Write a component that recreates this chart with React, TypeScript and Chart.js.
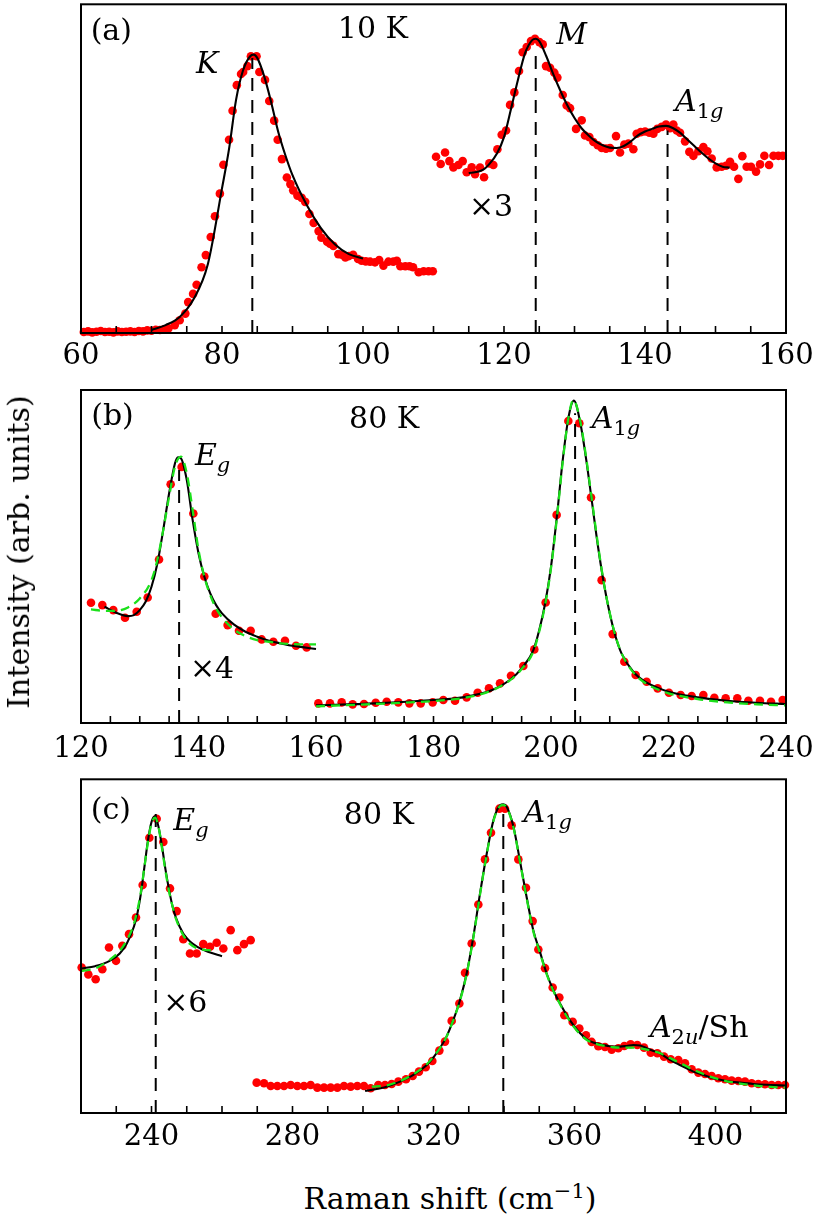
import React, { useEffect, useRef } from 'react';
import { Chart, registerables } from 'chart.js';

Chart.register(...registerables);

const FONT = '"DejaVu Serif", serif';

// ---------------- Panel (a): 10 K ----------------
const aKShift = [60.4, 61.0, 61.6, 62.2, 62.8, 63.4, 64.0, 64.6, 65.2, 65.8, 66.4, 67.0, 67.6, 68.2, 68.8, 69.4, 70.0, 70.6, 71.2, 71.8, 72.4, 73.3, 74.0, 74.8, 75.2, 75.9, 76.4, 77.1, 77.7, 78.4, 79.0, 79.7, 80.2, 81.0, 81.5, 82.1, 82.7, 83.0, 83.6, 84.1, 84.9, 85.3, 86.1, 86.7, 87.4, 87.9, 88.5, 89.2, 89.7, 90.1, 90.7, 91.3, 91.8, 92.4, 93.0, 93.7, 94.1, 94.9, 95.3, 95.8, 96.5, 97.0, 97.5, 98.0, 98.6, 99.3, 99.8, 100.4, 101.0, 101.7, 102.3, 102.9, 103.6, 104.3, 104.8, 105.3, 106.0, 106.6, 107.1, 107.9, 108.6, 109.3, 109.9];
const aKIntensity = [0.3, 0.5, 0.2, 0.4, 0.6, 0.3, 0.4, 0.2, 0.5, 0.3, 0.4, 0.5, 0.3, 0.6, 0.5, 0.8, 0.7, 1.0, 0.9, 1.1, 1.4, 2.4, 3.9, 5.9, 9.4, 11.9, 14.7, 20.0, 23.7, 29.2, 35.5, 42.4, 51.2, 58.8, 67.6, 75.4, 78.8, 79.4, 81.2, 84.2, 84.2, 79.4, 77.0, 70.6, 64.6, 58.8, 52.9, 47.3, 45.3, 43.4, 41.8, 41.1, 39.9, 36.2, 33.5, 31.0, 29.0, 27.8, 27.2, 26.5, 24.0, 23.8, 23.0, 23.4, 23.8, 22.5, 22.0, 21.8, 21.7, 21.5, 22.2, 20.5, 21.7, 21.7, 22.0, 20.3, 20.3, 20.3, 20.0, 18.5, 18.8, 18.8, 18.8];
const aKFitShift = [70, 72, 74, 76, 78, 80, 81, 82, 83, 84, 84.5, 85, 86, 87, 88, 89, 90, 92, 94, 96, 98, 100];
const aKFitIntensity = [0.9, 2.4, 4.9, 10.4, 21.0, 44.0, 56.0, 71.0, 80.0, 84.2, 84.7, 83.7, 78.0, 70.0, 61.0, 54.0, 48.0, 39.0, 32.0, 27.0, 24.0, 22.7];
const aMShift = [110.36, 111.02, 111.64, 112.25, 112.82, 113.53, 114.14, 114.71, 115.42, 115.89, 116.6, 117.17, 117.92, 118.49, 119.06, 119.67, 120.29, 120.86, 121.47, 122.13, 122.65, 123.22, 123.83, 124.4, 125.02, 125.49, 125.96, 126.53, 127.14, 127.57, 128.33, 128.89, 129.37, 130.22, 131.02, 131.49, 132.11, 132.68, 133.29, 133.86, 134.47, 135.04, 135.89, 136.46, 137.07, 137.64, 138.35, 138.82, 139.39, 140.01, 140.62, 141.19, 141.75, 142.37, 142.98, 143.55, 144.02, 144.5, 144.97, 145.68, 146.29, 146.86, 147.57, 148.28, 148.85, 149.46, 150.17, 150.88, 151.49, 152.06, 152.63, 153.24, 153.81, 154.42, 155.04, 155.75, 156.32, 156.93, 157.6, 158.22, 158.92, 159.54];
const aMIntensity = [53.6, 51.4, 54.9, 52.3, 50.4, 51.1, 52.3, 48.9, 50.4, 48.3, 50.3, 47.4, 51.6, 51.1, 55.9, 60.3, 61.6, 69.4, 73.2, 79.7, 85.4, 87.0, 88.8, 89.5, 88.5, 87.8, 81.2, 80.7, 79.2, 77.7, 72.4, 69.2, 68.4, 62.1, 64.7, 60.1, 59.6, 58.1, 57.1, 56.3, 56.1, 56.3, 59.9, 54.9, 57.3, 57.6, 55.9, 60.6, 61.1, 61.3, 60.9, 60.6, 62.1, 62.7, 63.4, 62.3, 63.4, 61.6, 60.9, 58.3, 55.1, 53.9, 55.3, 56.6, 55.3, 53.1, 50.4, 50.6, 50.9, 52.1, 50.6, 46.9, 53.8, 50.6, 50.6, 49.1, 51.3, 53.9, 51.1, 53.9, 53.9, 53.9];
const aMFitShift = [115, 117, 118, 119, 120, 121, 122, 123, 124, 124.5, 125, 126, 127, 128, 129, 130, 131, 132, 133, 134, 135, 136, 137, 138, 139, 140, 141, 142, 143, 144, 145, 146, 147, 148, 149, 150, 151, 152];
const aMFitIntensity = [48.6, 49.6, 51.6, 54.6, 59.6, 68.2, 77.2, 85.2, 89.1, 89.5, 88.8, 84.2, 78.7, 73.7, 69.2, 65.4, 62.3, 60.1, 58.3, 57.1, 56.4, 56.3, 56.9, 58.3, 60.1, 61.3, 62.1, 62.8, 63.0, 62.3, 60.9, 58.9, 56.9, 54.9, 53.1, 51.6, 50.6, 50.3];
const aPeakShift = [84.3, 124.5, 143.2];
const aPeakTop = [83.7, 86.2, 61.6];

// ---------------- Panel (b): 80 K ----------------
const bEgShift = [121.7, 123.63, 125.5, 127.49, 129.48, 131.35, 133.28, 135.26, 137.13, 139.12, 140.99, 142.92, 144.96, 146.89, 148.88, 150.75, 152.74, 154.72, 156.6, 158.41];
const bEgIntensity = [36.1, 35.4, 33.9, 31.6, 33.4, 37.7, 49.1, 71.7, 76.9, 62.9, 44.0, 32.8, 29.4, 27.7, 27.7, 25.1, 24.4, 24.7, 23.2, 22.7];
const bEgFitShift = [124, 126, 128, 129, 130, 131, 132, 133, 134, 135, 136, 136.5, 137, 138, 139, 140, 141, 142, 143, 144, 146, 148, 150, 152, 154, 156, 158, 160];
const bEgFitIntensity = [34.9, 33.1, 32.1, 32.4, 33.9, 36.4, 40.9, 47.9, 58.0, 69.0, 78.0, 79.8, 79.5, 73.0, 61.0, 51.0, 43.9, 38.9, 35.4, 32.9, 29.6, 27.4, 25.9, 24.7, 23.9, 23.2, 22.7, 22.2];
const bEgAltShift = [121.7, 124, 126, 128, 130, 132, 133, 134, 135, 136, 137, 138, 139, 140, 141, 142, 143, 144, 146, 148, 150, 152, 154, 156, 158, 160];
const bEgAltIntensity = [34.1, 33.7, 33.7, 34.7, 37.4, 42.9, 49.0, 58.0, 68.0, 77.0, 80.0, 75.0, 64.0, 52.0, 43.9, 38.4, 34.4, 31.7, 28.1, 26.1, 24.9, 24.4, 23.9, 23.7, 23.6, 23.6];
const bAShift = [160.4, 162.38, 164.37, 166.24, 168.17, 170.16, 172.03, 174.01, 175.89, 177.82, 179.86, 181.67, 183.66, 185.64, 187.52, 189.44, 191.32, 193.19, 195.29, 197.16, 199.09, 200.96, 202.95, 204.82, 206.81, 208.62, 210.49, 212.48, 214.41, 216.28, 218.15, 220.08, 222.07, 223.94, 225.93, 227.8, 229.73, 231.71, 233.59, 235.57, 237.45, 239.43];
const bAIntensity = [5.9, 5.9, 6.2, 5.6, 5.7, 6.1, 6.4, 6.2, 5.9, 5.9, 6.2, 6.9, 6.7, 7.7, 9.1, 10.4, 11.9, 14.2, 17.1, 22.1, 36.2, 62.5, 90.7, 90.0, 67.7, 42.9, 26.7, 18.4, 14.4, 12.4, 10.4, 9.1, 8.4, 8.1, 8.4, 7.6, 7.4, 7.4, 6.7, 6.7, 6.4, 6.9];
const bAFitShift = [160, 170, 180, 185, 190, 193, 195, 197, 198, 199, 200, 201, 202, 203, 203.9, 205, 206, 207, 208, 209, 210, 211, 212, 214, 216, 218, 220, 225, 230, 235, 240];
const bAFitIntensity = [5.3, 5.9, 6.9, 7.7, 9.9, 12.9, 16.4, 21.9, 27.9, 35.9, 46.9, 62.0, 79.0, 92.0, 96.8, 90.0, 79.0, 66.0, 53.0, 41.9, 32.9, 25.9, 20.9, 15.4, 12.4, 10.7, 9.4, 7.7, 6.7, 6.1, 5.7];
const bAAltShift = [160, 170, 180, 185, 190, 193, 195, 197, 198, 199, 200, 201, 202, 203, 203.8, 205, 206, 207, 208, 209, 210, 211, 212, 214, 216, 218, 220, 225, 230, 235, 240];
const bAAltIntensity = [5.0, 5.7, 6.6, 7.5, 9.8, 12.8, 16.2, 21.5, 27.5, 35.5, 46.5, 61.5, 78.5, 92.0, 97.0, 90.5, 79.5, 66.5, 53.5, 42.0, 33.0, 26.0, 21.0, 15.2, 12.0, 10.2, 8.9, 7.2, 6.2, 5.6, 5.3];
const bPeakShift = [136.7, 204.1];
const bPeakTop = [76.0, 93.0];

// ---------------- Panel (c): 80 K ----------------
const cEgShift = [220.19, 222.08, 224.16, 226.05, 227.94, 229.93, 231.73, 233.62, 235.6, 237.49, 239.39, 241.47, 243.36, 245.25, 247.14, 249.03, 250.92, 252.81, 254.7, 256.6, 258.49, 260.38, 262.46, 264.35, 266.24, 268.13];
const cEgIntensity = [43.6, 41.5, 40.1, 43.1, 49.6, 45.6, 50.1, 53.6, 58.6, 68.3, 82.5, 88.2, 81.2, 67.3, 60.5, 52.1, 47.8, 47.8, 50.6, 49.8, 51.0, 49.3, 54.8, 48.8, 50.6, 51.8];
const cEgFitShift = [220.2, 224, 228, 231, 233, 235, 236, 237, 238, 239, 240, 241, 242, 243, 244, 245, 246, 247, 249, 251, 253, 256, 260];
const cEgFitIntensity = [43.3, 44.0, 45.5, 47.8, 50.8, 55.8, 59.8, 65.8, 73.8, 81.7, 87.2, 88.9, 85.7, 79.7, 72.8, 66.8, 61.8, 58.3, 53.8, 51.3, 49.8, 48.3, 47.0];
const cEgAltShift = [220.2, 224, 228, 231, 233, 235, 236, 237, 238, 239, 240, 241, 242, 243, 244, 245, 246, 247, 249, 251, 253, 256, 258.6];
const cEgAltIntensity = [42.6, 43.3, 45.8, 48.6, 51.8, 56.6, 60.8, 66.3, 73.8, 81.2, 86.7, 88.5, 85.7, 79.2, 72.3, 66.3, 61.8, 58.0, 53.3, 50.6, 49.3, 48.8, 48.8];
const cAShift = [269.83, 271.91, 273.81, 275.7, 277.59, 279.48, 281.37, 283.26, 285.15, 287.05, 288.94, 290.83, 292.72, 294.61, 296.5, 298.39, 300.28, 302.17, 304.35, 306.24, 308.13, 310.03, 312.2, 314.09, 315.89, 317.78, 319.67, 321.66, 323.26, 325.16, 327.33, 328.94, 330.83, 332.72, 334.61, 336.31, 338.68, 340.28, 342.17, 344.07, 346.24, 348.13, 349.74, 351.63, 353.81, 355.7, 357.12, 359.48, 361.37, 363.26, 364.87, 366.76, 368.65, 370.54, 372.43, 374.14, 375.93, 377.82, 379.72, 381.61, 383.5, 385.39, 387.28, 389.46, 391.35, 393.24, 395.13, 397.02, 398.91, 400.8, 402.7, 404.59, 406.48, 408.37, 410.26, 412.15, 414.04, 415.93, 417.82, 419.71];
const cAIntensity = [9.1, 8.9, 8.1, 8.1, 8.1, 8.4, 8.1, 8.1, 8.4, 7.6, 7.6, 7.6, 7.6, 8.1, 7.9, 8.1, 8.1, 7.4, 8.4, 8.4, 8.7, 9.4, 10.1, 11.1, 12.4, 13.7, 15.6, 18.7, 21.4, 27.6, 32.8, 42.0, 50.8, 62.5, 76.0, 84.0, 91.2, 91.2, 86.2, 76.0, 67.5, 57.5, 49.0, 43.4, 37.6, 34.6, 29.3, 27.3, 25.3, 23.3, 21.3, 20.0, 19.8, 19.0, 19.4, 20.1, 20.6, 20.4, 19.6, 18.1, 17.9, 16.9, 16.1, 15.9, 14.9, 13.1, 12.1, 11.7, 11.1, 10.4, 10.1, 9.7, 9.6, 9.4, 8.9, 8.7, 8.6, 8.4, 8.4, 8.4];
const cAFitShift = [300.6, 306.7, 310.5, 314.3, 318.1, 320.0, 321.8, 323.7, 325.6, 327.5, 329.4, 331.3, 333.2, 335.1, 337.0, 338.9, 339.8, 340.8, 342.7, 344.5, 346.4, 348.3, 350.2, 352.1, 354.0, 355.9, 357.8, 359.7, 361.6, 363.5, 365.3, 367.2, 369.1, 371.0, 372.9, 374.8, 376.7, 378.6, 380.5, 382.4, 384.3, 386.1, 388.0, 389.9, 391.8, 393.7, 396.6, 399.4, 403.2, 407.0, 410.7, 415.5, 419.7];
const cAFitIntensity = [6.6, 7.9, 9.4, 11.4, 14.4, 16.7, 19.4, 22.9, 27.8, 33.8, 41.8, 52.8, 65.8, 77.7, 87.7, 92.2, 92.5, 91.7, 85.7, 75.7, 64.8, 54.8, 48.3, 41.8, 36.8, 32.8, 29.3, 26.3, 23.9, 22.1, 21.1, 20.6, 20.2, 19.9, 19.9, 20.1, 20.4, 20.2, 19.4, 18.6, 17.9, 16.6, 15.4, 14.4, 13.4, 12.4, 11.4, 10.4, 9.6, 9.1, 8.7, 8.4, 8.2];
const cAAltShift = [302.5, 306.7, 310.5, 314.3, 318.1, 320.0, 321.8, 323.7, 325.6, 327.5, 329.4, 331.3, 333.2, 335.1, 337.0, 338.9, 339.8, 340.8, 342.7, 344.5, 346.4, 348.3, 350.2, 352.1, 354.0, 355.9, 357.8, 359.7, 361.6, 363.5, 365.3, 367.2, 369.1, 371.0, 372.9, 374.8, 376.7, 378.6, 380.5, 382.4, 384.3, 386.1, 388.0, 389.9, 391.8, 393.7, 396.6, 399.4, 403.2, 407.0, 410.7, 415.5, 419.7];
const cAAltIntensity = [7.9, 8.3, 9.6, 11.6, 14.6, 16.9, 19.4, 22.9, 27.8, 33.6, 41.6, 52.5, 65.5, 77.5, 87.5, 92.0, 92.3, 91.5, 85.5, 75.5, 64.5, 54.5, 48.0, 41.6, 36.6, 32.6, 29.0, 26.0, 23.6, 21.9, 21.0, 20.4, 20.0, 19.7, 19.6, 19.6, 19.6, 19.4, 19.0, 18.5, 17.9, 17.0, 16.0, 15.0, 14.0, 13.0, 11.7, 10.6, 9.5, 8.8, 8.3, 7.8, 7.6];
const cPeakShift = [241.2, 339.8];
const cPeakTop = [89.7, 91.7];

// ---------------- helpers ----------------
type Part = { t: string; i?: boolean; sub?: boolean };
type Label = { x: number; y: number; align: 'left' | 'center'; parts: Part[] };

const pts = (xs: number[], ys: number[]) => xs.map((x, k) => ({ x, y: ys[k] }));

function dots(xs: number[], ys: number[]) {
  return { type: 'scatter', data: pts(xs, ys), backgroundColor: '#ff0000', borderWidth: 0, pointRadius: 4.3, showLine: false, clip: false, order: 4 };
}
function fit(xs: number[], ys: number[]) {
  return { type: 'line', data: pts(xs, ys), borderColor: '#000000', borderWidth: 2.1, pointRadius: 0, cubicInterpolationMode: 'monotone', fill: false, order: 1 };
}
function alt(xs: number[], ys: number[]) {
  return { type: 'line', data: pts(xs, ys), borderColor: '#1be01b', borderWidth: 2.3, borderDash: [9, 6], pointRadius: 0, cubicInterpolationMode: 'monotone', fill: false, order: 0 };
}
function peaks(xs: number[], tops: number[]) {
  return xs.map((p, k) => ({ type: 'line', data: [{ x: p, y: 0 }, { x: p, y: tops[k] }], borderColor: '#000000', borderWidth: 2, borderDash: [13, 9], pointRadius: 0, fill: false, order: 2 }));
}

const decor = {
  id: 'panelDecor',
  afterDatasetsDraw(chart: any, _a: any, opts: any) {
    const { ctx, chartArea } = chart;
    const { left, right, top, bottom } = chartArea;
    const xs = chart.scales.x;
    const ys = chart.scales.y;
    ctx.save();
    ctx.strokeStyle = '#000';
    ctx.lineWidth = 1.6;
    xs.ticks.forEach((t: any) => {
      const px = xs.getPixelForValue(t.value);
      if (px <= left + 1 || px >= right - 1) return;
      ctx.beginPath();
      ctx.moveTo(px, bottom);
      ctx.lineTo(px, bottom - 7);
      ctx.stroke();
    });
    ctx.lineWidth = 2;
    ctx.strokeRect(left, top, right - left, bottom - top);
    ctx.fillStyle = '#000';
    ctx.textBaseline = 'alphabetic';
    ctx.textAlign = 'left';
    (opts.labels as Label[]).forEach((lab) => {
      const fonts = lab.parts.map((p) => `${p.i ? 'italic ' : ''}${p.sub ? 21 : 30}px ${FONT}`);
      const widths = lab.parts.map((p, k) => { ctx.font = fonts[k]; return ctx.measureText(p.t).width; });
      const total = widths.reduce((a, b) => a + b, 0);
      let cx = xs.getPixelForValue(lab.x);
      if (lab.align === 'center') cx -= total / 2;
      const cy = ys.getPixelForValue(lab.y);
      lab.parts.forEach((p, k) => {
        ctx.font = fonts[k];
        ctx.fillText(p.t, cx, cy + (p.sub ? 7 : 0));
        cx += widths[k];
      });
    });
    ctx.restore();
  },
};

type PanelCfg = {
  top: number; height: number; areaTop: number; areaBottom: number;
  min: number; max: number; step: number; labelStep: number; tickPad: number;
  datasets: any[]; labels: Label[];
};

function Panel({ cfg }: { cfg: PanelCfg }) {
  const ref = useRef<HTMLCanvasElement>(null);
  useEffect(() => {
    if (!ref.current) return;
    const axisH = cfg.top + cfg.height - cfg.areaBottom;
    const chart = new Chart(ref.current, {
      type: 'scatter',
      data: { datasets: cfg.datasets },
      plugins: [decor],
      options: {
        animation: false,
        responsive: false,
        maintainAspectRatio: false,
        devicePixelRatio: 1,
        layout: { padding: { left: 81, right: 29, top: cfg.areaTop - cfg.top, bottom: 0 } },
        plugins: { legend: { display: false }, tooltip: { enabled: false }, panelDecor: { labels: cfg.labels } } as any,
        scales: {
          x: {
            type: 'linear', min: cfg.min, max: cfg.max,
            afterFit: (s: any) => { s.height = axisH; s.paddingLeft = 0; s.paddingRight = 0; },
            grid: { display: false, drawTicks: false },
            border: { display: false },
            ticks: {
              stepSize: cfg.step, autoSkip: false, maxRotation: 0, minRotation: 0, padding: cfg.tickPad,
              color: '#000', font: { family: FONT, size: 29 },
              callback: (v: any) => (Math.abs(Number(v) % cfg.labelStep) < 1e-6 ? String(v) : ''),
            },
          },
          y: { display: false, min: 0, max: 100 },
        },
      } as any,
    } as any);
    return () => chart.destroy();
  }, []);
  return (
    <canvas ref={ref} width={815} height={cfg.height}
      style={{ position: 'absolute', left: 0, top: cfg.top, width: 815, height: cfg.height }} />
  );
}

const panelA: PanelCfg = {
  top: 0, height: 380, areaTop: 1, areaBottom: 333, min: 60, max: 160, step: 5, labelStep: 20, tickPad: 6.5,
  datasets: [dots(aKShift, aKIntensity), dots(aMShift, aMIntensity), fit(aKFitShift, aKFitIntensity), fit(aMFitShift, aMFitIntensity), ...peaks(aPeakShift, aPeakTop)],
  labels: [
    { x: 64.3, y: 89.2, align: 'center', parts: [{ t: '(a)' }] },
    { x: 101.4, y: 89.8, align: 'center', parts: [{ t: '10 K' }] },
    { x: 77.9, y: 79.2, align: 'center', parts: [{ t: 'K', i: true }] },
    { x: 129.6, y: 88.0, align: 'center', parts: [{ t: 'M', i: true }] },
    { x: 144.26, y: 67.4, align: 'left', parts: [{ t: 'A', i: true }, { t: '1', sub: true }, { t: 'g', i: true, sub: true }] },
    { x: 118.16, y: 35.5, align: 'center', parts: [{ t: '×3' }] },
  ],
};

const panelB: PanelCfg = {
  top: 380, height: 395, areaTop: 390, areaBottom: 723, min: 120, max: 240, step: 5, labelStep: 20, tickPad: 9.5,
  datasets: [dots(bEgShift, bEgIntensity), dots(bAShift, bAIntensity), fit(bEgFitShift, bEgFitIntensity), fit(bAFitShift, bAFitIntensity), alt(bEgAltShift, bEgAltIntensity), alt(bAAltShift, bAAltIntensity), ...peaks(bPeakShift, bPeakTop)],
  labels: [
    { x: 125.36, y: 89.5, align: 'center', parts: [{ t: '(b)' }] },
    { x: 171.6, y: 88.5, align: 'center', parts: [{ t: '80 K' }] },
    { x: 139.4, y: 77.5, align: 'left', parts: [{ t: 'E', i: true }, { t: 'g', i: true, sub: true }] },
    { x: 142.3, y: 13.5, align: 'center', parts: [{ t: '×4' }] },
    { x: 206.93, y: 88.5, align: 'left', parts: [{ t: 'A', i: true }, { t: '1', sub: true }, { t: 'g', i: true, sub: true }] },
  ],
};

const panelC: PanelCfg = {
  top: 775, height: 400, areaTop: 779, areaBottom: 1113, min: 220, max: 420, step: 10, labelStep: 40, tickPad: 7,
  datasets: [dots(cEgShift, cEgIntensity), dots(cAShift, cAIntensity), fit(cEgFitShift, cEgFitIntensity), fit(cAFitShift, cAFitIntensity), alt(cEgAltShift, cEgAltIntensity), alt(cAAltShift, cAAltIntensity), ...peaks(cPeakShift, cPeakTop)],
  labels: [
    { x: 228.5, y: 88.2, align: 'center', parts: [{ t: '(c)' }] },
    { x: 304.5, y: 86.7, align: 'center', parts: [{ t: '80 K' }] },
    { x: 246.2, y: 84.9, align: 'left', parts: [{ t: 'E', i: true }, { t: 'g', i: true, sub: true }] },
    { x: 249.6, y: 30.3, align: 'center', parts: [{ t: '×6' }] },
    { x: 345.5, y: 87.2, align: 'left', parts: [{ t: 'A', i: true }, { t: '1', sub: true }, { t: 'g', i: true, sub: true }] },
    { x: 381.4, y: 22.9, align: 'left', parts: [{ t: 'A', i: true }, { t: '2', sub: true }, { t: 'u', i: true, sub: true }, { t: '/Sh' }] },
  ],
};

export default function App() {
  return (
    <div style={{ position: 'absolute', left: 0, top: 0, width: 815, height: 1214, background: '#fff', overflow: 'hidden' }}>
      <Panel cfg={panelA} />
      <Panel cfg={panelB} />
      <Panel cfg={panelC} />
      <div style={{ position: 'absolute', left: 19, top: 552, transform: 'translate(-50%, -50%) rotate(-90deg)', whiteSpace: 'nowrap', fontFamily: FONT, fontSize: 30, lineHeight: 1, color: '#000' }}>
        Intensity (arb. units)
      </div>
      <div style={{ position: 'absolute', left: 450, top: 1181, transform: 'translateX(-50%)', whiteSpace: 'nowrap', fontFamily: FONT, fontSize: 30, lineHeight: 1, color: '#000' }}>
        Raman shift (cm<span style={{ fontSize: '0.7em', verticalAlign: '0.5em' }}>−1</span>)
      </div>
    </div>
  );
}
